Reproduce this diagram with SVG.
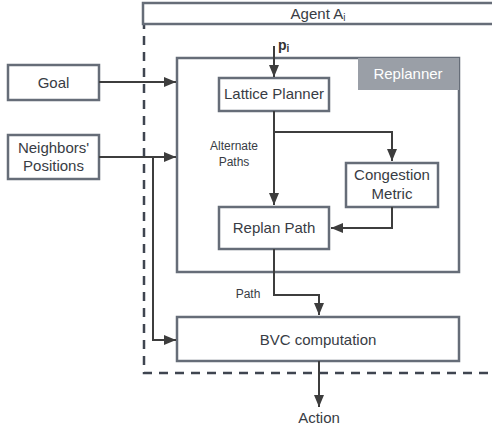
<svg xmlns="http://www.w3.org/2000/svg" width="492" height="432" viewBox="0 0 492 432">
<style>
.box{fill:#fff;stroke:#666d78;stroke-width:2.5}
.t{font-family:"Liberation Sans",Arial,sans-serif;font-size:15px;fill:#383c44;text-anchor:middle}
.s{font-family:"Liberation Sans",Arial,sans-serif;font-size:12px;fill:#383c44;text-anchor:middle}
.c{fill:none;stroke:#3d3d3d;stroke-width:2}
.dash{fill:none;stroke:#3f4550;stroke-width:2.5;stroke-dasharray:9,7}
</style>
<defs>
<marker id="a" viewBox="0 0 12 10" refX="12" refY="5" markerWidth="12" markerHeight="10" orient="auto" markerUnits="userSpaceOnUse">
<path d="M0,0 L12,5 L0,10 z" fill="#3d3d3d"/>
</marker>
</defs>
<rect width="492" height="432" fill="#fff"/>
<g id="agent-boundary">
<path class="dash" d="M144,4 V373 H492"/>
</g>
<g id="agent-header">
<rect class="box" x="143" y="3" width="355" height="21"/>
<text class="t" x="318" y="19">Agent A<tspan font-size="10" dy="2">i</tspan></text>
</g>
<g id="goal">
<rect class="box" x="8" y="65" width="91" height="35"/>
<text class="t" x="53.5" y="87.5">Goal</text>
</g>
<g id="neighbors">
<rect class="box" x="8" y="135" width="91" height="44"/>
<text class="t" x="53.5" y="152.5">Neighbors'</text>
<text class="t" x="53.5" y="171">Positions</text>
</g>
<g id="replanner">
<rect class="box" x="177" y="58" width="282" height="214"/>
<rect x="358" y="58" width="101" height="32" fill="#9a9fa7"/>
<text class="t" x="408" y="78.5" style="fill:#fff">Replanner</text>
</g>
<g id="lattice-planner">
<rect class="box" x="219" y="78" width="110" height="33"/>
<text class="t" x="274" y="99">Lattice Planner</text>
</g>
<g id="congestion-metric">
<rect class="box" x="346" y="163" width="92" height="44"/>
<text class="t" x="392" y="180">Congestion</text>
<text class="t" x="392" y="199">Metric</text>
</g>
<g id="replan-path">
<rect class="box" x="219" y="207" width="110" height="42"/>
<text class="t" x="274" y="232.5">Replan Path</text>
</g>
<g id="bvc">
<rect class="box" x="177" y="317" width="282" height="44"/>
<text class="t" x="318" y="344.5">BVC computation</text>
</g>
<g id="connectors">
<path class="c" d="M99,82 H176" marker-end="url(#a)"/>
<path class="c" d="M99,157 H176" marker-end="url(#a)"/>
<path class="c" d="M153,157 V340 H176" marker-end="url(#a)"/>
<path class="c" d="M274,46 V77" marker-end="url(#a)"/>
<path class="c" d="M274,111 V205" marker-end="url(#a)"/>
<path class="c" d="M274,132 H392 V161" marker-end="url(#a)"/>
<path class="c" d="M392,207 V228 H331" marker-end="url(#a)"/>
<path class="c" d="M274,249 V295 H319 V315" marker-end="url(#a)"/>
<path class="c" d="M319,361 V407" marker-end="url(#a)"/>
</g>
<g id="labels">
<text x="278" y="50" style="font-family:'Liberation Sans',Arial,sans-serif;font-size:14px;font-weight:bold;fill:#333">p<tspan font-size="10" dy="2">i</tspan></text>
<text class="s" x="234" y="150">Alternate</text>
<text class="s" x="234" y="166">Paths</text>
<text class="s" x="248" y="298">Path</text>
<text class="t" x="319" y="423">Action</text>
</g>
</svg>
